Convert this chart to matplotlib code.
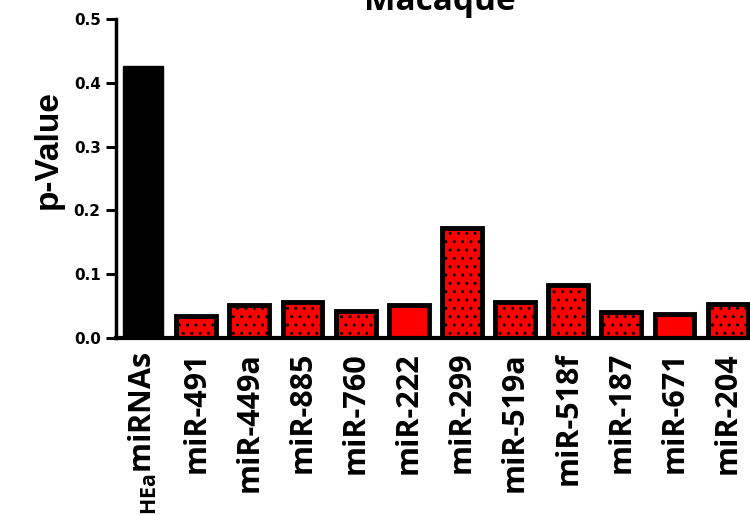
import matplotlib
matplotlib.use("Agg")
import matplotlib.pyplot as plt
import numpy as np

# ── Data ────────────────────────────────────────────────────────────────
labels = [r"$_{\mathregular{HEa}}$miRNAs", "miR-491", "miR-449a", "miR-885", "miR-760",
          "miR-222", "miR-299", "miR-519a", "miR-518f", "miR-187", "miR-671", "miR-204"]
p_values = [0.427, 0.035, 0.052, 0.056, 0.042, 0.052, 0.172, 0.057, 0.083, 0.041, 0.037, 0.053]
dotted = [False, True, True, True, True, False, True, True, True, True, False, True]
y_ticks = [0.0, 0.1, 0.2, 0.3, 0.4, 0.5]

plt.rcParams["hatch.linewidth"] = 1.0
plt.rcParams["mathtext.default"] = "regular"

fig = plt.figure(figsize=(7.5, 5.15), dpi=100)
ax = fig.add_axes([0.1547, 0.3437, 0.8453, 0.6194])

x = np.arange(len(labels))
for i, (v, d) in enumerate(zip(p_values, dotted)):
    if i == 0:
        ax.bar(x[i], v, width=0.75, color="black", edgecolor="black", linewidth=1)
    else:
        ax.bar(x[i], v, width=0.75, color="#ff0000", edgecolor="black",
               linewidth=3.5, hatch=".." if d else None)

ax.set_xlim(-0.51, 11.42)
ax.set_ylim(0, 0.5)
ax.set_yticks(y_ticks)
ax.set_yticklabels([f"{t:.1f}" for t in y_ticks], fontfamily="DejaVu Sans",
                   fontweight="bold", fontsize=11)
ax.set_xticks(x)
ax.set_xticklabels(labels, rotation=90, fontfamily="Open Sans", fontweight="bold",
                   fontsize=22, va="top", ha="center")
ax.tick_params(axis="x", length=0, pad=10)
ax.tick_params(axis="y", length=7, width=2.2, direction="out", pad=4)

for side in ("top", "right"):
    ax.spines[side].set_visible(False)
ax.spines["left"].set_linewidth(2.5)
ax.spines["bottom"].set_linewidth(3)

ax.set_ylabel("p-Value", fontfamily="Liberation Sans", fontweight="bold", fontsize=24)
ax.yaxis.set_label_coords(-0.083, 0.59)

# title sits mostly above the canvas, as in the source figure
fig.text(0.587, 0.981, "Macaque", fontfamily="Open Sans", fontweight="bold",
         fontsize=24, ha="center", va="baseline")

fig.savefig("out.png", dpi=100)
